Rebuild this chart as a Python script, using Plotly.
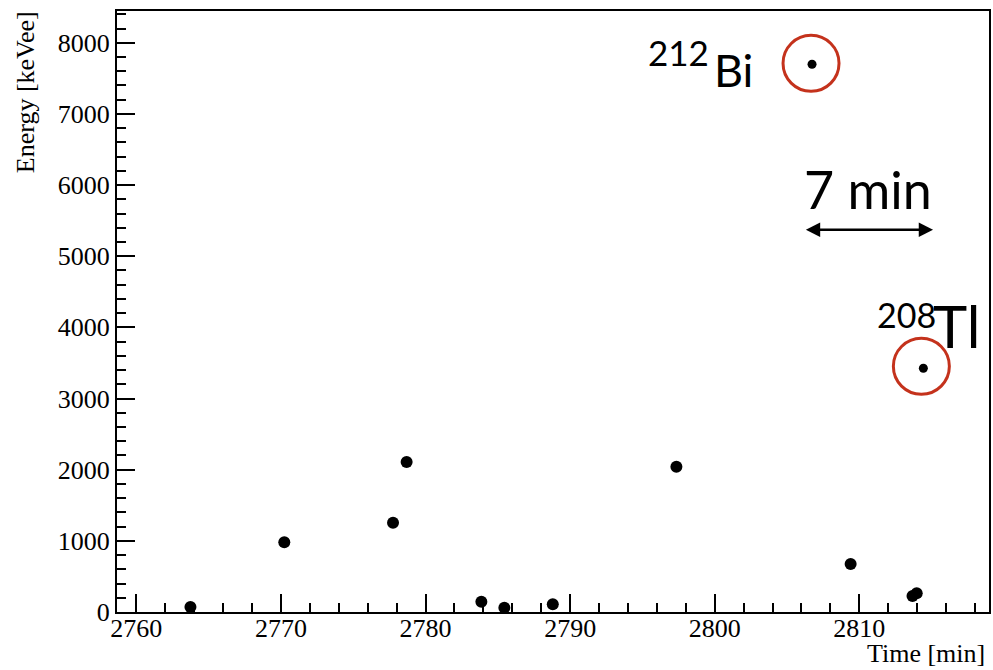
import plotly.graph_objects as go

# Event times [min] and deposited energies [keVee]
time_min = [2763.74, 2770.23, 2777.75, 2778.69, 2783.86, 2785.45, 2788.80,
            2797.35, 2806.73, 2809.40, 2813.68, 2813.97, 2814.43]
energy_kevee = [70, 980, 1255, 2108, 145, 60, 108,
                2042, 7697, 675, 224, 262, 3425]

# Index of the tagged coincidence pair
BI_IDX = 8
TL_IDX = 12

x_range = [2758.66, 2818.97]
y_range = [0, 8446]

marker_sizes = [12] * len(time_min)
marker_sizes[BI_IDX] = 9
marker_sizes[TL_IDX] = 9

fig = go.Figure()
fig.add_trace(go.Scatter(
    x=time_min, y=energy_kevee, mode="markers",
    marker=dict(color="black", size=marker_sizes, opacity=1, line=dict(width=0)),
    showlegend=False, cliponaxis=False,
))

W, H = 993, 670
L, R, T, B = 117, 991, 11, 612


def px(xp):
    return (xp - L) / (R - L)


def py(yp):
    return (B - yp) / (B - T)


serif = "Liberation Serif"
sans = "Lato"

annotations = [
    # Bi-212 label
    dict(text="212", x=px(712), y=py(52), xanchor="right", yanchor="middle",
         font=dict(family=sans, size=35, color="black")),
    dict(text="Bi", x=px(713), y=py(70), xanchor="left", yanchor="middle",
         font=dict(family=sans, size=45, color="black")),
    # Tl-208 label
    dict(text="208", x=px(940), y=py(314), xanchor="right", yanchor="middle",
         font=dict(family=sans, size=34, color="black")),
    dict(text="Tl", x=px(933), y=py(325), xanchor="left", yanchor="middle",
         font=dict(family=sans, size=58, color="black")),
    # time difference label
    dict(text="7 min", x=px(870), y=py(189), xanchor="center", yanchor="middle",
         font=dict(family=sans, size=52, color="black")),
]
for a in annotations:
    a.update(xref="paper", yref="paper", showarrow=False)

# double-headed arrow spanning the Bi -> Tl delay
arrow_y = 5372
annotations.append(dict(
    x=2815.1, y=arrow_y, ax=2806.2, ay=arrow_y,
    xref="x", yref="y", axref="x", ayref="y",
    text="", showarrow=True, arrowhead=2, arrowside="end+start",
    arrowsize=1.1, arrowwidth=2.6, arrowcolor="black",
))

# axis titles (ROOT style, right/top aligned)
annotations.append(dict(
    text="Time [min]", xref="paper", yref="paper", x=px(989), y=py(653),
    xanchor="right", yanchor="middle", showarrow=False,
    font=dict(family=serif, size=26, color="black"),
))
annotations.append(dict(
    text="Energy [keVee]", xref="paper", yref="paper", x=px(25), y=py(9),
    xanchor="center", yanchor="top", textangle=-90, showarrow=False,
    font=dict(family=serif, size=26, color="black"),
))

shapes = []
for idx, (dx0, dx1, dy0, dy1) in [(BI_IDX, (-29, 27, -27, 29)),
                                   (TL_IDX, (-30, 26, -26, 30))]:
    shapes.append(dict(
        type="circle", xref="x", yref="y",
        xsizemode="pixel", ysizemode="pixel",
        xanchor=time_min[idx], yanchor=energy_kevee[idx],
        x0=dx0, x1=dx1, y0=dy0, y1=dy1,
        line=dict(color="#C4321C", width=3),
    ))

fig.update_layout(
    width=W, height=H,
    margin=dict(l=L, r=W - R, t=T, b=H - B, pad=0),
    paper_bgcolor="white", plot_bgcolor="white",
    annotations=annotations, shapes=shapes,
    font=dict(family=serif, color="black"),
)

fig.update_xaxes(
    range=x_range, showgrid=False, zeroline=False,
    showline=True, linecolor="black", linewidth=2, mirror=True,
    ticks="inside", ticklen=18, tickwidth=1.5, tickcolor="black",
    tick0=2760, dtick=10, ticklabelstandoff=-8,
    minor=dict(ticks="inside", ticklen=9, tickwidth=1.5, tickcolor="black",
               dtick=2, showgrid=False),
    tickfont=dict(family=serif, size=26, color="black"),
)
fig.update_yaxes(
    range=y_range, showgrid=False, zeroline=False,
    showline=True, linecolor="black", linewidth=2, mirror=True,
    ticks="inside", ticklen=18, tickwidth=1.5, tickcolor="black",
    tick0=0, dtick=1000,
    minor=dict(ticks="inside", ticklen=9, tickwidth=1.5, tickcolor="black",
               dtick=200, showgrid=False),
    tickfont=dict(family=serif, size=26, color="black"),
)

fig.write_html("out.html")
